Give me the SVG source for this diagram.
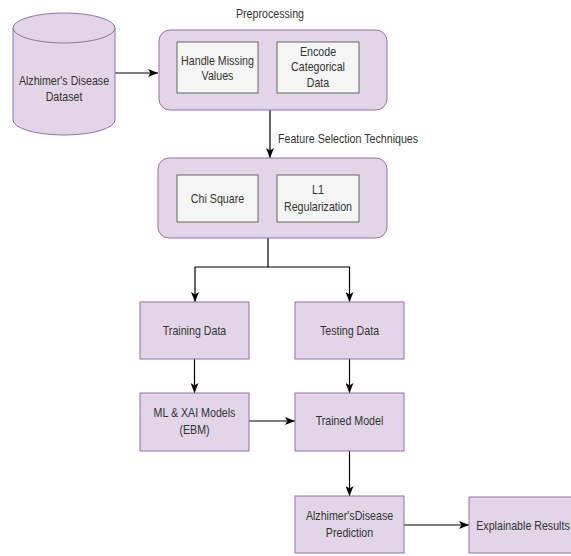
<svg xmlns="http://www.w3.org/2000/svg" width="571" height="556" viewBox="0 0 571 556">
<style>
.p{fill:#e1d5e7;stroke:#9673a6;stroke-width:1}
.g{fill:#f5f5f5;stroke:#666666;stroke-width:1}
.t{font-family:"Liberation Sans",Arial,sans-serif;font-size:13px;fill:#333333;text-anchor:middle}
.s{text-anchor:start}
.c{fill:none;stroke:#000000;stroke-width:1.2}
</style>
<defs>
<marker id="arr" viewBox="0 0 10 8" refX="10" refY="4" markerWidth="10" markerHeight="8" markerUnits="userSpaceOnUse" orient="auto">
<path d="M0,0 L10,4 L0,8 L2.5,4 Z" fill="#000000"/>
</marker>
</defs>
<rect width="571" height="556" fill="#ffffff"/>
<g id="connectors">
<path class="c" d="M115,73 H158" marker-end="url(#arr)"/>
<path class="c" d="M270,110 V158" marker-end="url(#arr)"/>
<path class="c" d="M268,238 V267 H195 V302" marker-end="url(#arr)"/>
<path class="c" d="M268,267 H349.5 V302" marker-end="url(#arr)"/>
<path class="c" d="M194.5,359 V393" marker-end="url(#arr)"/>
<path class="c" d="M349.5,359 V393" marker-end="url(#arr)"/>
<path class="c" d="M249,421 H295" marker-end="url(#arr)"/>
<path class="c" d="M349.5,451 V496" marker-end="url(#arr)"/>
<path class="c" d="M404,525 H469" marker-end="url(#arr)"/>
<text class="t s" transform="translate(278,143) scale(0.82,1)">Feature Selection Techniques</text>
</g>
<g id="dataset">
<path class="p" d="M13,28 A51,15 0 0 1 115,28 V120 A51,15 0 0 1 13,120 Z"/>
<path class="p" d="M13,28 A51,15 0 0 0 115,28" fill="none"/>
<text class="t" transform="translate(64,0) scale(0.82,1)"><tspan x="0" y="85">Alzhimer's Disease</tspan><tspan x="0" y="101">Dataset</tspan></text>
</g>
<g id="preprocessing">
<text class="t" transform="translate(270,18) scale(0.82,1)">Preprocessing</text>
<rect class="p" x="159" y="30" width="228" height="80" rx="11"/>
</g>
<g id="missing">
<rect class="g" x="177" y="42" width="81" height="51"/>
<text class="t" transform="translate(217.5,0) scale(0.82,1)"><tspan x="0" y="65">Handle Missing</tspan><tspan x="0" y="80">Values</tspan></text>
</g>
<g id="encode">
<rect class="g" x="277" y="42" width="82" height="51"/>
<text class="t" transform="translate(318,0) scale(0.82,1)"><tspan x="0" y="56">Encode</tspan><tspan x="0" y="71">Categorical</tspan><tspan x="0" y="87">Data</tspan></text>
</g>
<g id="selection">
<rect class="p" x="158" y="158" width="229" height="80" rx="11"/>
</g>
<g id="chi">
<rect class="g" x="177" y="175" width="81" height="47"/>
<text class="t" transform="translate(217.5,203) scale(0.82,1)">Chi Square</text>
</g>
<g id="l1">
<rect class="g" x="277" y="175" width="82" height="47"/>
<text class="t" transform="translate(318,0) scale(0.82,1)"><tspan x="0" y="194">L1</tspan><tspan x="0" y="211">Regularization</tspan></text>
</g>
<g id="training">
<rect class="p" x="140" y="302" width="109" height="57"/>
<text class="t" transform="translate(194.5,335) scale(0.82,1)">Training Data</text>
</g>
<g id="testing">
<rect class="p" x="295" y="302" width="109" height="57"/>
<text class="t" transform="translate(349.5,335) scale(0.82,1)">Testing Data</text>
</g>
<g id="models">
<rect class="p" x="140" y="393" width="109" height="58"/>
<text class="t" transform="translate(194.5,0) scale(0.82,1)"><tspan x="0" y="417">ML &amp; XAI Models</tspan><tspan x="0" y="434">(EBM)</tspan></text>
</g>
<g id="trained">
<rect class="p" x="295" y="393" width="109" height="58"/>
<text class="t" transform="translate(349.5,425) scale(0.82,1)">Trained Model</text>
</g>
<g id="prediction">
<rect class="p" x="295" y="496" width="109" height="57"/>
<text class="t" transform="translate(349.5,0) scale(0.82,1)"><tspan x="0" y="520">Alzhimer'sDisease</tspan><tspan x="0" y="537">Prediction</tspan></text>
</g>
<g id="explainable">
<rect class="p" x="469" y="497" width="108" height="56"/>
<text class="t" transform="translate(523,530) scale(0.82,1)">Explainable Results</text>
</g>
</svg>
